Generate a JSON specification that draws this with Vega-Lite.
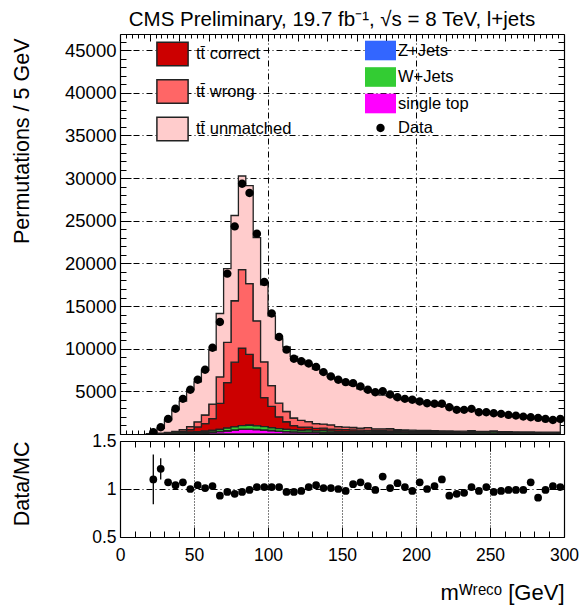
{
  "$schema": "https://vega.github.io/schema/vega-lite/v6.json",
  "background": "white",
  "padding": {"left": 11, "top": 10, "right": 5, "bottom": 5},
  "bounds": "flush",
  "spacing": 7,
  "config": {
    "view": {"stroke": null},
    "font": "Liberation Sans",
    "axis": {"labelFont": "Liberation Sans", "titleFont": "Liberation Sans", "labelColor": "black", "titleColor": "black", "titleFontWeight": "normal", "domainColor": "black", "domainWidth": 1.2, "tickColor": "black", "tickWidth": 1, "labelOverlap": false, "labelBound": false, "labelFlush": false},
    "legend": {"labelFont": "Liberation Sans", "labelFontSize": 16.5, "labelColor": "black", "padding": 0, "symbolOpacity": 1}
  },
  "datasets": {
    "bins": [
      {"x": 17.5, "st": 0, "zj": 0, "wj": 0, "cor": 0, "wro": 0, "unm": 0},
      {"x": 22.5, "st": 10, "zj": 0, "wj": 10, "cor": 5, "wro": 10, "unm": 155, "data": 210, "ratio": 1.10, "lo": 0.84, "hi": 1.36},
      {"x": 27.5, "st": 25, "zj": 1, "wj": 25, "cor": 15, "wro": 35, "unm": 559, "data": 796, "ratio": 1.21, "lo": 1.10, "hi": 1.32},
      {"x": 32.5, "st": 50, "zj": 2, "wj": 45, "cor": 35, "wro": 70, "unm": 1448, "data": 1770, "ratio": 1.07, "lo": 1.04, "hi": 1.10},
      {"x": 37.5, "st": 75, "zj": 3, "wj": 65, "cor": 65, "wro": 110, "unm": 2532, "data": 2960, "ratio": 1.04, "lo": 1.02, "hi": 1.06},
      {"x": 42.5, "st": 95, "zj": 4, "wj": 85, "cor": 130, "wro": 190, "unm": 3346, "data": 4120, "ratio": 1.07, "lo": 1.05, "hi": 1.09},
      {"x": 47.5, "st": 115, "zj": 5, "wj": 105, "cor": 280, "wro": 350, "unm": 4325, "data": 5180, "ratio": 1.00, "lo": 0.985, "hi": 1.015},
      {"x": 52.5, "st": 140, "zj": 6, "wj": 125, "cor": 560, "wro": 600, "unm": 4689, "data": 6360, "ratio": 1.04, "lo": 1.025, "hi": 1.055},
      {"x": 57.5, "st": 170, "zj": 7, "wj": 150, "cor": 900, "wro": 1000, "unm": 5233, "data": 7530, "ratio": 1.01, "lo": 0.995, "hi": 1.025},
      {"x": 62.5, "st": 220, "zj": 8, "wj": 180, "cor": 1400, "wro": 1700, "unm": 6322, "data": 10120, "ratio": 1.03, "lo": 1.015, "hi": 1.045},
      {"x": 67.5, "st": 290, "zj": 10, "wj": 240, "cor": 3050, "wro": 3100, "unm": 7440, "data": 13140, "ratio": 0.93, "lo": 0.92, "hi": 0.94},
      {"x": 72.5, "st": 370, "zj": 12, "wj": 300, "cor": 5350, "wro": 4700, "unm": 8648, "data": 18800, "ratio": 0.97, "lo": 0.96, "hi": 0.98},
      {"x": 77.5, "st": 460, "zj": 14, "wj": 350, "cor": 7600, "wro": 7200, "unm": 9996, "data": 24340, "ratio": 0.95, "lo": 0.94, "hi": 0.96},
      {"x": 82.5, "st": 540, "zj": 15, "wj": 420, "cor": 9100, "wro": 9200, "unm": 10975, "data": 29340, "ratio": 0.97, "lo": 0.96, "hi": 0.98},
      {"x": 87.5, "st": 560, "zj": 15, "wj": 450, "cor": 8300, "wro": 8300, "unm": 11495, "data": 28250, "ratio": 0.99, "lo": 0.98, "hi": 1.00},
      {"x": 92.5, "st": 530, "zj": 14, "wj": 420, "cor": 6800, "wro": 5500, "unm": 9766, "data": 23490, "ratio": 1.02, "lo": 1.01, "hi": 1.03},
      {"x": 97.5, "st": 470, "zj": 12, "wj": 380, "cor": 3400, "wro": 4200, "unm": 9018, "data": 17830, "ratio": 1.02, "lo": 1.01, "hi": 1.03},
      {"x": 102.5, "st": 400, "zj": 10, "wj": 320, "cor": 2500, "wro": 2450, "unm": 8160, "data": 14120, "ratio": 1.02, "lo": 1.01, "hi": 1.03},
      {"x": 107.5, "st": 330, "zj": 9, "wj": 280, "cor": 1400, "wro": 1600, "unm": 7531, "data": 11370, "ratio": 1.02, "lo": 1.005, "hi": 1.035},
      {"x": 112.5, "st": 280, "zj": 8, "wj": 250, "cor": 900, "wro": 1200, "unm": 7562, "data": 9890, "ratio": 0.97, "lo": 0.955, "hi": 0.985},
      {"x": 117.5, "st": 250, "zj": 8, "wj": 220, "cor": 500, "wro": 900, "unm": 7222, "data": 8830, "ratio": 0.97, "lo": 0.955, "hi": 0.985},
      {"x": 122.5, "st": 220, "zj": 7, "wj": 200, "cor": 380, "wro": 800, "unm": 7043, "data": 8530, "ratio": 0.98, "lo": 0.965, "hi": 0.995},
      {"x": 127.5, "st": 200, "zj": 7, "wj": 260, "cor": 330, "wro": 650, "unm": 6703, "data": 8260, "ratio": 1.02, "lo": 1.005, "hi": 1.035},
      {"x": 132.5, "st": 185, "zj": 6, "wj": 170, "cor": 300, "wro": 560, "unm": 6379, "data": 7870, "ratio": 1.04, "lo": 1.025, "hi": 1.055},
      {"x": 137.5, "st": 175, "zj": 6, "wj": 230, "cor": 270, "wro": 470, "unm": 5999, "data": 7260, "ratio": 1.01, "lo": 0.995, "hi": 1.025},
      {"x": 142.5, "st": 165, "zj": 6, "wj": 160, "cor": 250, "wro": 480, "unm": 5639, "data": 6750, "ratio": 1.01, "lo": 0.995, "hi": 1.025},
      {"x": 147.5, "st": 155, "zj": 5, "wj": 150, "cor": 230, "wro": 330, "unm": 5480, "data": 6360, "ratio": 1.00, "lo": 0.985, "hi": 1.015},
      {"x": 152.5, "st": 145, "zj": 5, "wj": 140, "cor": 215, "wro": 300, "unm": 5245, "data": 6080, "ratio": 0.98, "lo": 0.965, "hi": 0.995},
      {"x": 157.5, "st": 135, "zj": 5, "wj": 135, "cor": 200, "wro": 290, "unm": 4935, "data": 5960, "ratio": 1.05, "lo": 1.03, "hi": 1.07},
      {"x": 162.5, "st": 128, "zj": 5, "wj": 130, "cor": 185, "wro": 250, "unm": 4602, "data": 5570, "ratio": 1.07, "lo": 1.05, "hi": 1.09},
      {"x": 167.5, "st": 120, "zj": 5, "wj": 125, "cor": 175, "wro": 320, "unm": 4305, "data": 5180, "ratio": 1.03, "lo": 1.01, "hi": 1.05},
      {"x": 172.5, "st": 115, "zj": 4, "wj": 120, "cor": 165, "wro": 200, "unm": 4246, "data": 4900, "ratio": 0.99, "lo": 0.97, "hi": 1.01},
      {"x": 177.5, "st": 108, "zj": 4, "wj": 115, "cor": 155, "wro": 230, "unm": 3938, "data": 5020, "ratio": 1.13, "lo": 1.11, "hi": 1.15},
      {"x": 182.5, "st": 102, "zj": 4, "wj": 120, "cor": 150, "wro": 240, "unm": 3834, "data": 4630, "ratio": 1.01, "lo": 0.99, "hi": 1.03},
      {"x": 187.5, "st": 96, "zj": 4, "wj": 110, "cor": 140, "wro": 170, "unm": 3630, "data": 4310, "ratio": 1.06, "lo": 1.04, "hi": 1.08},
      {"x": 192.5, "st": 90, "zj": 4, "wj": 105, "cor": 130, "wro": 140, "unm": 3531, "data": 4120, "ratio": 1.02, "lo": 1.0, "hi": 1.04},
      {"x": 197.5, "st": 85, "zj": 4, "wj": 100, "cor": 125, "wro": 140, "unm": 3446, "data": 4010, "ratio": 0.98, "lo": 0.96, "hi": 1.0},
      {"x": 202.5, "st": 80, "zj": 3, "wj": 100, "cor": 120, "wro": 130, "unm": 3217, "data": 3810, "ratio": 1.07, "lo": 1.05, "hi": 1.09},
      {"x": 207.5, "st": 76, "zj": 3, "wj": 95, "cor": 115, "wro": 120, "unm": 3141, "data": 3610, "ratio": 1.00, "lo": 0.98, "hi": 1.02},
      {"x": 212.5, "st": 72, "zj": 3, "wj": 95, "cor": 110, "wro": 110, "unm": 3010, "data": 3540, "ratio": 1.03, "lo": 1.01, "hi": 1.05},
      {"x": 217.5, "st": 68, "zj": 3, "wj": 90, "cor": 105, "wro": 105, "unm": 2879, "data": 3540, "ratio": 1.10, "lo": 1.08, "hi": 1.12},
      {"x": 222.5, "st": 65, "zj": 3, "wj": 90, "cor": 100, "wro": 100, "unm": 2892, "data": 3140, "ratio": 0.93, "lo": 0.91, "hi": 0.95},
      {"x": 227.5, "st": 62, "zj": 3, "wj": 85, "cor": 95, "wro": 95, "unm": 2660, "data": 2830, "ratio": 0.95, "lo": 0.93, "hi": 0.97},
      {"x": 232.5, "st": 60, "zj": 3, "wj": 85, "cor": 90, "wro": 90, "unm": 2572, "data": 2830, "ratio": 0.96, "lo": 0.94, "hi": 0.98},
      {"x": 237.5, "st": 58, "zj": 3, "wj": 170, "cor": 88, "wro": 85, "unm": 2446, "data": 2950, "ratio": 1.02, "lo": 1.0, "hi": 1.04},
      {"x": 242.5, "st": 56, "zj": 2, "wj": 80, "cor": 85, "wro": 80, "unm": 2317, "data": 2550, "ratio": 0.98, "lo": 0.96, "hi": 1.0},
      {"x": 247.5, "st": 54, "zj": 2, "wj": 80, "cor": 80, "wro": 75, "unm": 2229, "data": 2550, "ratio": 1.02, "lo": 1.0, "hi": 1.04},
      {"x": 252.5, "st": 52, "zj": 2, "wj": 160, "cor": 78, "wro": 72, "unm": 2106, "data": 2430, "ratio": 0.97, "lo": 0.95, "hi": 0.99},
      {"x": 257.5, "st": 50, "zj": 2, "wj": 75, "cor": 75, "wro": 70, "unm": 2108, "data": 2360, "ratio": 0.98, "lo": 0.96, "hi": 1.0},
      {"x": 262.5, "st": 48, "zj": 2, "wj": 75, "cor": 72, "wro": 68, "unm": 1995, "data": 2240, "ratio": 0.99, "lo": 0.97, "hi": 1.01},
      {"x": 267.5, "st": 46, "zj": 2, "wj": 70, "cor": 70, "wro": 65, "unm": 1917, "data": 2160, "ratio": 0.99, "lo": 0.97, "hi": 1.01},
      {"x": 272.5, "st": 44, "zj": 2, "wj": 70, "cor": 68, "wro": 62, "unm": 1814, "data": 2040, "ratio": 0.99, "lo": 0.97, "hi": 1.01},
      {"x": 277.5, "st": 42, "zj": 2, "wj": 65, "cor": 65, "wro": 60, "unm": 1666, "data": 1960, "ratio": 1.07, "lo": 1.04, "hi": 1.10},
      {"x": 282.5, "st": 40, "zj": 2, "wj": 65, "cor": 62, "wro": 58, "unm": 1753, "data": 1890, "ratio": 0.91, "lo": 0.88, "hi": 0.94},
      {"x": 287.5, "st": 39, "zj": 2, "wj": 60, "cor": 60, "wro": 56, "unm": 1573, "data": 1770, "ratio": 0.99, "lo": 0.96, "hi": 1.02},
      {"x": 292.5, "st": 38, "zj": 2, "wj": 60, "cor": 58, "wro": 54, "unm": 1408, "data": 1650, "ratio": 1.03, "lo": 1.0, "hi": 1.06},
      {"x": 297.5, "st": 37, "zj": 2, "wj": 60, "cor": 56, "wro": 52, "unm": 1523, "data": 1770, "ratio": 1.02, "lo": 0.99, "hi": 1.05}
    ]
  },
  "resolve": {"scale": {"x": "independent", "y": "independent"}},
  "vconcat": [
    {
      "width": 444,
      "height": 400,
      "title": {"text": "CMS Preliminary, 19.7 fb⁻¹,  √s = 8 TeV, l+jets", "font": "Liberation Sans", "fontSize": 20.5, "fontWeight": "normal", "color": "black", "anchor": "middle", "offset": 2, "dx": -10},
      "data": {"name": "bins"},
      "resolve": {"axis": {"x": "independent", "y": "independent"}},
      "layer": [
        {
          "transform": [
            {"fold": ["st", "zj", "wj", "cor", "wro", "unm"], "as": ["proc", "n"]},
            {"stack": "n", "groupby": ["x"], "as": ["n0", "n1"]},
            {"filter": {"field": "proc", "oneOf": ["cor", "wro", "unm"]}}
          ],
          "mark": {"type": "area", "interpolate": "step", "stroke": "#222222", "strokeWidth": 1.3, "clip": true},
          "encoding": {
            "x": {"field": "x", "type": "quantitative", "scale": {"domain": [0, 300], "nice": false, "zero": false},
              "axis": {"orient": "bottom", "values": [0,4,8,12,16,20,24,28,32,36,40,44,48,52,56,60,64,68,72,76,80,84,88,92,96,100,104,108,112,116,120,124,128,132,136,140,144,148,152,156,160,164,168,172,176,180,184,188,192,196,200,204,208,212,216,220,224,228,232,236,240,244,248,252,256,260,264,268,272,276,280,284,288,292,296,300],
                "labels": false, "title": null,
                "tickSize": {"condition": {"test": "datum.value % 20 === 0", "value": -7}, "value": -4},
                "grid": true, "gridColor": "black", "gridWidth": 1, "gridDash": [6, 3, 1, 3],
                "gridOpacity": {"condition": {"test": "datum.value === 100 || datum.value === 200", "value": 1}, "value": 0}}},
            "y": {"field": "n1", "type": "quantitative", "scale": {"domain": [0, 46900], "nice": false, "zero": false},
              "axis": {"orient": "left", "values": [0,1000,2000,3000,4000,5000,6000,7000,8000,9000,10000,11000,12000,13000,14000,15000,16000,17000,18000,19000,20000,21000,22000,23000,24000,25000,26000,27000,28000,29000,30000,31000,32000,33000,34000,35000,36000,37000,38000,39000,40000,41000,42000,43000,44000,45000,46000],
                "format": "d",
                "labelExpr": "datum.value % 5000 === 0 && datum.value > 0 ? datum.label : ''",
                "labelFontSize": 18.5, "labelPadding": 15,
                "tickSize": {"condition": {"test": "datum.value % 5000 === 0", "value": -11}, "value": -6},
                "grid": true, "gridColor": "black", "gridWidth": 1, "gridDash": [6, 3, 1, 3],
                "gridOpacity": {"condition": {"test": "datum.value % 5000 === 0 && datum.value > 0", "value": 1}, "value": 0},
                "title": "Permutations / 5 GeV", "titleFontSize": 21.5, "titleAnchor": "end", "titleAlign": "right", "titleBaseline": "alphabetic", "titleAngle": 270, "titleX": -92, "titleY": 4}},
            "y2": {"field": "n0"},
            "fill": {"field": "proc", "type": "nominal",
              "scale": {"domain": ["cor", "wro", "unm"], "range": ["#cc0000", "#ff6666", "#ffcccc"]},
              "legend": {"title": null, "orient": "none", "legendX": 39.5, "legendY": 7, "symbolType": "M-1.3,-0.97H1.3V0.97H-1.3Z", "symbolSize": 576, "symbolStrokeColor": "#222222", "symbolStrokeWidth": 1.5, "labelOffset": 10.5, "rowPadding": 7.5,
                "labelExpr": "datum.label === 'cor' ? 'tt̄ correct' : datum.label === 'wro' ? 'tt̄ wrong' : 'tt̄ unmatched'"}}
          }
        },
        {
          "transform": [
            {"fold": ["st", "zj", "wj", "cor", "wro", "unm"], "as": ["proc", "n"]},
            {"stack": "n", "groupby": ["x"], "as": ["n0", "n1"]},
            {"filter": {"field": "proc", "oneOf": ["st", "zj", "wj"]}}
          ],
          "mark": {"type": "area", "interpolate": "step", "stroke": "#222222", "strokeWidth": 1.3, "clip": true},
          "encoding": {
            "x": {"field": "x", "type": "quantitative", "scale": {"domain": [0, 300], "nice": false, "zero": false}, "axis": null},
            "y": {"field": "n1", "type": "quantitative", "scale": {"domain": [0, 46900], "nice": false, "zero": false}, "axis": null},
            "y2": {"field": "n0"},
            "color": {"field": "proc", "type": "nominal",
              "scale": {"domain": ["zj", "wj", "st", "data"], "range": ["#3366ff", "#33cc33", "#ff00ff", "#000000"]},
              "legend": {"title": null, "orient": "none", "legendX": 249.5, "legendY": 5.5, "symbolSize": 400, "symbolStrokeColor": "#222222", "symbolStrokeWidth": 1.5, "labelOffset": 6.5, "rowPadding": 0.5,
                "labelExpr": "datum.label === 'zj' ? 'Z+Jets' : datum.label === 'wj' ? 'W+Jets' : datum.label === 'st' ? 'single top' : 'Data'"}}
          }
        },
        {
          "transform": [{"filter": "isValid(datum.data)"}],
          "mark": {"type": "point", "filled": true, "opacity": 1, "size": 400, "clip": true},
          "encoding": {
            "x": {"field": "x", "type": "quantitative", "scale": {"domain": [0, 300], "nice": false, "zero": false},
              "axis": {"orient": "top", "values": [0,4,8,12,16,20,24,28,32,36,40,44,48,52,56,60,64,68,72,76,80,84,88,92,96,100,104,108,112,116,120,124,128,132,136,140,144,148,152,156,160,164,168,172,176,180,184,188,192,196,200,204,208,212,216,220,224,228,232,236,240,244,248,252,256,260,264,268,272,276,280,284,288,292,296,300],
                "labels": false, "title": null, "grid": false,
                "tickSize": {"condition": {"test": "datum.value % 20 === 0", "value": -7}, "value": -4}}},
            "y": {"field": "data", "type": "quantitative", "scale": {"domain": [0, 46900], "nice": false, "zero": false},
              "axis": {"orient": "right", "values": [0,1000,2000,3000,4000,5000,6000,7000,8000,9000,10000,11000,12000,13000,14000,15000,16000,17000,18000,19000,20000,21000,22000,23000,24000,25000,26000,27000,28000,29000,30000,31000,32000,33000,34000,35000,36000,37000,38000,39000,40000,41000,42000,43000,44000,45000,46000],
                "labels": false, "title": null, "grid": false,
                "tickSize": {"condition": {"test": "datum.value % 5000 === 0", "value": -11}, "value": -6}}},
            "color": {"datum": "data", "type": "nominal",
              "legend": {"title": null, "orient": "none", "legendX": 249.5, "legendY": 5.5, "symbolSize": 400, "symbolStrokeColor": "#222222", "symbolStrokeWidth": 1.5, "labelOffset": 6.5, "rowPadding": 0.5,
                "labelExpr": "datum.label === 'zj' ? 'Z+Jets' : datum.label === 'wj' ? 'W+Jets' : datum.label === 'st' ? 'single top' : 'Data'"}},
            "shape": {"datum": "data", "type": "nominal",
              "scale": {"domain": ["zj", "wj", "st", "data"], "range": ["M-1.55,-0.98H1.55V0.98H-1.55Z", "M-1.55,-0.98H1.55V0.98H-1.55Z", "M-1.55,-0.98H1.55V0.98H-1.55Z", "M0.42,0A0.42,0.42,0,1,1,-0.42,0A0.42,0.42,0,1,1,0.42,0Z"]},
              "legend": {"title": null, "orient": "none", "legendX": 249.5, "legendY": 5.5, "symbolSize": 400, "symbolStrokeColor": "#222222", "symbolStrokeWidth": 1.5, "labelOffset": 6.5, "rowPadding": 0.5,
                "labelExpr": "datum.label === 'zj' ? 'Z+Jets' : datum.label === 'wj' ? 'W+Jets' : datum.label === 'st' ? 'single top' : 'Data'"}}
          }
        }
      ]
    },
    {
      "width": 444,
      "height": 96,
      "data": {"name": "bins"},
      "transform": [{"filter": "isValid(datum.ratio)"}],
      "resolve": {"axis": {"x": "independent", "y": "independent"}},
      "layer": [
        {
          "mark": {"type": "rule", "color": "black", "strokeWidth": 1.3, "clip": true},
          "encoding": {
            "x": {"field": "x", "type": "quantitative", "scale": {"domain": [0, 300], "nice": false, "zero": false},
              "axis": {"orient": "bottom", "values": [0,10,20,30,40,50,60,70,80,90,100,110,120,130,140,150,160,170,180,190,200,210,220,230,240,250,260,270,280,290,300],
                "labelExpr": "datum.value % 50 === 0 ? datum.label : ''",
                "labelFontSize": 17.5, "labelPadding": 19.5,
                "tickSize": {"condition": {"test": "datum.value % 50 === 0", "value": -10}, "value": -6},
                "grid": true, "gridColor": "black", "gridWidth": 1, "gridDash": [1, 2],
                "gridOpacity": {"condition": {"test": "datum.value % 50 === 0 && datum.value > 0 && datum.value < 300", "value": 1}, "value": 0},
                "title": "mᵂʳᵉᶜᵒ [GeV]", "titleFontSize": 22, "titleAnchor": "end", "titleAlign": "right", "titleBaseline": "alphabetic", "titleX": 444, "titleY": 62.5}},
            "y": {"field": "lo", "type": "quantitative", "scale": {"domain": [0.5, 1.5], "nice": false, "zero": false},
              "axis": {"orient": "left", "values": [0.5, 1, 1.5],
                "labelExpr": "datum.value + ''",
                "labelFontSize": 17.5, "labelPadding": 15,
                "tickSize": -11,
                "grid": true, "gridColor": "black", "gridWidth": 1, "gridDash": [6, 3, 1, 3],
                "gridOpacity": {"condition": {"test": "datum.value === 1", "value": 1}, "value": 0},
                "title": "Data/MC", "titleFontSize": 21.5, "titleAnchor": "end", "titleAlign": "right", "titleBaseline": "alphabetic", "titleAngle": 270, "titleX": -92, "titleY": 0}},
            "y2": {"field": "hi"}
          }
        },
        {
          "mark": {"type": "point", "filled": true, "opacity": 1, "color": "black", "shape": "circle", "size": 60, "clip": true},
          "encoding": {
            "x": {"field": "x", "type": "quantitative", "scale": {"domain": [0, 300], "nice": false, "zero": false},
              "axis": {"orient": "top", "values": [0,10,20,30,40,50,60,70,80,90,100,110,120,130,140,150,160,170,180,190,200,210,220,230,240,250,260,270,280,290,300],
                "labels": false, "title": null, "grid": false,
                "tickSize": {"condition": {"test": "datum.value % 50 === 0", "value": -10}, "value": -6}}},
            "y": {"field": "ratio", "type": "quantitative", "scale": {"domain": [0.5, 1.5], "nice": false, "zero": false},
              "axis": {"orient": "right", "values": [0.5, 1, 1.5], "labels": false, "title": null, "grid": false, "tickSize": -11}}
          }
        }
      ]
    }
  ]
}
